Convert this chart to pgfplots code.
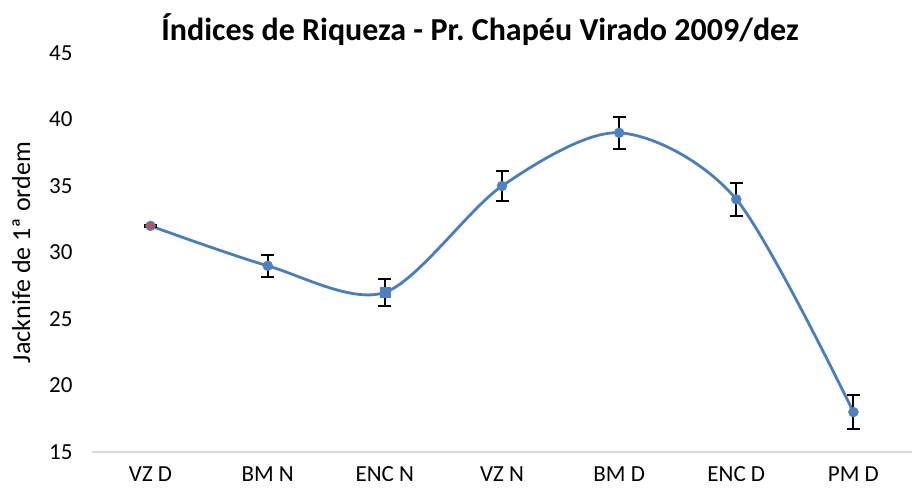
\documentclass[border=0pt]{standalone}
\usepackage{pgfplots}
\pgfplotsset{compat=1.18}
\usepackage{fontspec}
\setmainfont{Carlito}
\frenchspacing
\definecolor{serieblue}{HTML}{4A7EBB}
\definecolor{markblue}{HTML}{4F81BD}
\definecolor{markred}{HTML}{C0504D}
\definecolor{axisgray}{HTML}{D9D9D9}
\begin{document}
\begin{tikzpicture}[x=1pt,y=1pt]
\path[use as bounding box] (-92,-41) rectangle (823,452);
\begin{axis}[
  at={(0,0)}, anchor=south west,
  scale only axis,
  width=820pt, height=399pt,
  xmin=-0.5, xmax=6.5,
  ymin=15, ymax=45,
  ytick={15,20,...,45},
  xtick={0,...,6},
  xticklabels={VZ D, BM N, ENC N, VZ N, BM D, ENC D, PM D},
  axis y line=none,
  axis x line*=bottom,
  x axis line style={draw=axisgray, line width=1.5pt, -},
  major tick length=0pt,
  /pgf/number format/assume math mode=true,
  tick label style={font=\fontsize{23}{27}\selectfont, black},
  xticklabel style={yshift=-11pt},
  title={\textbf{Índices de Riqueza - Pr.\ Chapéu Virado 2009/dez}},
  title style={font=\fontsize{32}{36}\selectfont, yshift=-2pt, xshift=-22pt},
  clip=false,
]
\addplot[serieblue, line width=2.8pt, smooth, tension=0.5, mark=none]
  coordinates {(0,32) (1,29) (2,27) (3,35) (4,39) (5,34) (6,18)};
\addplot[only marks, mark=*, mark size=5pt, mark options={draw=markblue, fill=markblue},
  error bars/.cd, y dir=both, y explicit,
  error bar style={black, line width=2pt},
  error mark options={black, line width=2pt, rotate=90, mark size=6.5pt}]
  coordinates {(0,32) +- (0,0.05) (1,29) +- (0,0.83) (3,35) +- (0,1.13) (4,39) +- (0,1.2) (5,34) +- (0,1.23) (6,18) +- (0,1.26)};
\addplot[only marks, mark=square*, mark size=5pt, mark options={draw=markblue, fill=markblue},
  error bars/.cd, y dir=both, y explicit,
  error bar style={black, line width=2pt},
  error mark options={black, line width=2pt, rotate=90, mark size=6.5pt}]
  coordinates {(2,27) +- (0,1.04)};
\addplot[only marks, mark=*, mark size=3.2pt, mark options={draw=markred, fill=markred}]
  coordinates {(0,32)};
\end{axis}
\begin{axis}[
  at={(0,0)}, anchor=south west,
  scale only axis,
  width=820pt, height=399pt,
  xmin=-0.5, xmax=6.5,
  ymin=15, ymax=45,
  ytick={15,20,...,45},
  xtick=\empty,
  axis x line=none,
  axis y line*=left,
  y axis line style={draw=none},
  major tick length=0pt,
  /pgf/number format/assume math mode=true,
  yticklabel style={font=\fontsize{23}{27}\selectfont, black, xshift=-16pt},
  ylabel={\fontsize{26}{30}\selectfont Jacknife de 1ª ordem},
  ylabel style={at={(ticklabel cs:0.5)}, anchor=south, yshift=12pt},
]
\addplot[draw=none] coordinates {(0,30)};
\end{axis}
\end{tikzpicture}
\end{document}
